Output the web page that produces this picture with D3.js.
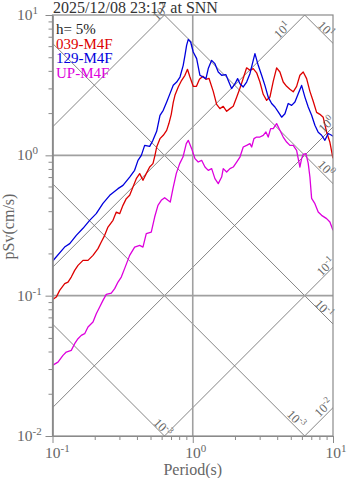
<!DOCTYPE html>
<html><head><meta charset="utf-8">
<script src="https://cdn.jsdelivr.net/npm/d3@7"></script>
<style>
body{margin:0;background:#fff;}
svg{display:block;font-family:"Liberation Serif","Times New Roman",serif;}
</style></head>
<body><svg id="c" width="347" height="478"></svg>
<script>
// ---------- DATA ----------
const title = "2025/12/08 23:17 at SNN";
const legendTitle = "h= 5%";
const seriesNames = ["039-M4F", "129-M4F", "UP-M4F"];

const periods039 = [0.1,0.1064,0.1125,0.1222,0.129,0.1361,0.1439,0.152,0.165,0.1791,0.1944,0.211,0.2227,0.2355,0.2486,0.27,0.285,0.3013,0.318,0.3357,0.355,0.3748,0.3957,0.4183,0.4416,0.4662,0.493,0.5204,0.5378,0.553,0.5838,0.6163,0.6516,0.6766,0.7026,0.7261,0.7466,0.7882,0.8334,0.8797,0.9168,0.9551,1.008,1.063,1.116,1.182,1.242,1.305,1.4,1.48,1.563,1.65,1.745,1.842,1.944,2.056,2.17,2.291,2.422,2.557,2.699,2.855,3.013,3.18,3.363,3.55,3.748,3.963,4.183,4.416,4.67,4.93,5.204,5.503,5.808,6.133,6.484,6.845,7.226,7.64,8.065,8.514,9.004,9.504,10];
const values039 = [0.0937,0.0977,0.1091,0.1218,0.125,0.1357,0.1515,0.1644,0.1785,0.1785,0.1937,0.2163,0.241,0.2691,0.3083,0.3441,0.3943,0.3841,0.4401,0.4912,0.5187,0.5942,0.6821,0.7407,0.6636,0.7407,0.8254,0.8727,1.0,1.146,1.315,1.389,1.507,1.691,1.96,2.387,2.677,3.068,3.424,3.718,4.102,3.614,3.103,3.103,3.481,3.656,3.481,3.538,2.858,2.309,2.152,2.235,2.059,2.152,2.235,2.591,3.003,3.538,4.204,4.036,4.15,3.873,3.331,2.722,2.466,2.603,3.37,4.204,3.925,3.331,3.103,2.954,2.835,3.103,3.718,3.925,3.522,2.858,2.426,2.025,1.96,1.866,1.466,1.238,0.952];

const periods129 = [0.1,0.122,0.1327,0.1478,0.165,0.184,0.205,0.229,0.256,0.293,0.318,0.355,0.385,0.407,0.43,0.454,0.493,0.52,0.553,0.584,0.616,0.652,0.688,0.726,0.768,0.811,0.855,0.88,0.904,0.929,0.966,1.008,1.066,1.125,1.188,1.242,1.29,1.364,1.439,1.52,1.607,1.725,1.791,1.893,2.0,2.089,2.17,2.291,2.422,2.557,2.699,2.776,2.93,3.098,3.27,3.452,3.651,3.854,4.069,4.302,4.541,4.795,5.07,5.352,5.649,5.973,6.306,6.657,7.04,7.43,7.844,8.295,8.757,9.245,9.772,10];
const values129 = [0.176,0.222,0.235,0.269,0.302,0.344,0.384,0.455,0.519,0.579,0.611,0.7,0.782,0.921,1.0,1.178,1.159,1.279,1.483,1.928,2.093,2.399,2.753,3.155,3.33,3.614,4.38,5.163,6.081,6.711,6.42,5.45,4.89,3.72,3.61,3.52,4.15,4.75,4.5,3.92,3.72,3.76,3.42,2.99,3.24,3.52,3.24,3.07,3.33,3.82,4.75,5.31,4.38,3.72,3.15,2.6,2.34,2.21,2.04,1.87,1.98,2.34,2.27,2.4,2.75,3.15,2.6,2.21,1.93,1.64,1.46,1.39,1.28,1.43,1.39,1.37];

const periodsUP = [0.1,0.1094,0.1188,0.1254,0.1361,0.1439,0.152,0.1604,0.1696,0.1791,0.1944,0.2052,0.217,0.2291,0.2417,0.2625,0.2776,0.2931,0.3094,0.3271,0.355,0.3853,0.4183,0.4416,0.4662,0.5061,0.5351,0.5649,0.5964,0.6304,0.6656,0.6912,0.7225,0.7628,0.8067,0.8517,0.899,0.929,0.9822,1.037,1.094,1.157,1.222,1.29,1.364,1.439,1.52,1.607,1.65,1.745,1.842,1.944,2.056,2.17,2.291,2.422,2.557,2.63,2.731,2.855,3.013,3.18,3.325,3.452,3.592,3.748,3.963,4.183,4.416,4.67,4.93,5.204,5.503,5.649,5.808,5.973,6.133,6.409,6.657,6.845,7.04,7.43,7.844,8.295,9.004,9.504,10];
const valuesUP = [0.03185,0.03363,0.03754,0.03963,0.04074,0.04548,0.04937,0.05212,0.05359,0.05973,0.06483,0.0744,0.08295,0.09259,0.1022,0.1043,0.1122,0.125,0.1357,0.1565,0.1937,0.222,0.2283,0.222,0.2767,0.284,0.3633,0.4401,0.4778,0.4995,0.4778,0.4647,0.579,0.7407,0.8727,0.9725,1.212,1.279,1.116,0.9473,0.896,0.9213,0.8254,0.7818,0.8038,0.6821,0.6284,0.7003,0.8038,0.7603,0.8038,0.8254,0.896,0.9725,1.146,1.178,1.212,1.146,1.315,1.35,1.35,1.389,1.466,1.35,1.55,1.55,1.683,1.507,1.35,1.244,1.178,1.178,1.086,0.9473,0.8254,0.9473,1.016,1.028,0.877,0.7003,0.4938,0.4525,0.3943,0.3736,0.3538,0.3346,0.292];

const accelLines = [0.01, 0.1, 1, 10, 100];    // pSa (cm/s^2), slope +1
const dispLines  = [0.001, 0.01, 0.1, 1, 10];  // Sd (cm), slope -1
const accelLabelExp = [-2, -1, 0, 1, 2];
const dispLabelExp  = [-3, -3, -1, 0, 1];
const xTickExp = [-1, 0, 1];
const yTickExp = [-2, -1, 0, 1];

// ---------- LAYOUT ----------
const L = 52.5, R = 333, T0 = 15, B = 436;
const colors = ["#dd0000", "#0000dd", "#dd00dd"];
const grey = "#8a8a8a";

const svg = d3.select("#c");
const x = d3.scaleLog().domain([0.1, 10]).range([L, R]);
const y = d3.scaleLog().domain([0.01, 10]).range([B, T0]);

svg.append("defs").append("clipPath").attr("id","clip")
  .append("rect").attr("x", L).attr("y", T0).attr("width", R - L).attr("height", B - T0);

const plot = svg.append("g").attr("clip-path", "url(#clip)");
const twoPi = 2 * Math.PI;

// diagonal lines
const tr = [0.01, 1000];
accelLines.forEach(a => {
  plot.append("line")
    .attr("x1", x(tr[0])).attr("y1", y(a * tr[0] / twoPi))
    .attr("x2", x(tr[1])).attr("y2", y(a * tr[1] / twoPi))
    .attr("stroke", "#777").attr("stroke-width", 0.9);
});
dispLines.forEach(d => {
  plot.append("line")
    .attr("x1", x(tr[0])).attr("y1", y(twoPi * d / tr[0]))
    .attr("x2", x(tr[1])).attr("y2", y(twoPi * d / tr[1]))
    .attr("stroke", "#777").attr("stroke-width", 0.9);
});

// grid lines
[1].forEach(t => plot.append("line").attr("x1", x(t)).attr("x2", x(t)).attr("y1", T0).attr("y2", B)
  .attr("stroke", "#a0a0a0").attr("stroke-width", 1.6));
[1, 0.1].forEach(v => plot.append("line").attr("x1", L).attr("x2", R).attr("y1", y(v)).attr("y2", y(v))
  .attr("stroke", "#a0a0a0").attr("stroke-width", 1.6));

// diagonal labels
function addRotLabel(px, py, angle, exp) {
  const t = svg.append("text")
    .attr("transform", `translate(${px},${py}) rotate(${angle})`)
    .attr("text-anchor", "middle").attr("dominant-baseline", "central")
    .attr("fill", "#666").attr("font-size", 12.5);
  t.append("tspan").text("10");
  t.append("tspan").attr("dy", -4).attr("font-size", 9).text(exp);
}
// accel labels: [T position, offset above line]
const accelLabelPos = [[8.6, 9], [8.9, 7.5], [9.0, 9], [4.35, 7], [0.59, 6.5]];
accelLines.forEach((a, i) => {
  const [tp, off] = accelLabelPos[i];
  addRotLabel(x(tp) , y(a * tp / twoPi) - off, -45, accelLabelExp[i]);
});
const dispLabelPos = [[0.61, 6.5], [5.45, 8], [8.6, 6], [8.9, 8], [8.9, 7]];
dispLines.forEach((d, i) => {
  const [tp, off] = dispLabelPos[i];
  addRotLabel(x(tp), y(twoPi * d / tp) - off, 45, dispLabelExp[i]);
});

// curves
const line = d3.line().x(d => x(d[0])).y(d => y(d[1]));
const sets = [[periods039, values039], [periods129, values129], [periodsUP, valuesUP]];
[2, 0, 1].forEach(i => {
  const [p, v] = sets[i];
  plot.append("path").datum(p.map((t, k) => [t, v[k]]))
    .attr("d", line).attr("fill", "none").attr("stroke", colors[i])
    .attr("stroke-width", 1.3).attr("stroke-linejoin", "round");
});

// frame
svg.append("rect").attr("x", L).attr("y", T0).attr("width", R - L).attr("height", B - T0)
  .attr("fill", "none").attr("stroke", grey).attr("stroke-width", 1.2);

// ticks
function minorVals(lo, hi) {
  const out = [];
  for (let e = lo; e < hi; e++) for (let m = 2; m <= 9; m++) out.push(m * Math.pow(10, e));
  return out;
}
const yMinor = d3.axisLeft(y).tickValues(minorVals(-2, 1)).tickSize(4).tickFormat("").tickSizeOuter(0);
const yMajor = d3.axisLeft(y).tickValues(yTickExp.map(e => Math.pow(10, e))).tickSize(7).tickFormat("").tickSizeOuter(0);
const xMinor = d3.axisBottom(x).tickValues(minorVals(-1, 1)).tickSize(4).tickFormat("").tickSizeOuter(0);
const xMajor = d3.axisBottom(x).tickValues(xTickExp.map(e => Math.pow(10, e))).tickSize(7).tickFormat("").tickSizeOuter(0);
[[yMinor, `translate(${L},0)`], [yMajor, `translate(${L},0)`], [xMinor, `translate(0,${B})`], [xMajor, `translate(0,${B})`]]
  .forEach(([ax, tf]) => {
    const g = svg.append("g").attr("transform", tf).call(ax);
    g.selectAll("path").attr("stroke", grey).attr("stroke-width", 1.2);
    g.selectAll("line").attr("stroke", grey).attr("stroke-width", 1);
  });

// tick labels
yTickExp.forEach(e => {
  const t = svg.append("text").attr("x", 17).attr("y", y(Math.pow(10, e)) + 5)
    .attr("fill", "#666").attr("font-size", 15.5);
  t.append("tspan").text("10");
  t.append("tspan").attr("dy", -6).attr("font-size", 11).text(e);
});
xTickExp.forEach(e => {
  const t = svg.append("text").attr("x", x(Math.pow(10, e)) - 7.5).attr("y", 458)
    .attr("fill", "#666").attr("font-size", 15.5);
  t.append("tspan").text("10");
  t.append("tspan").attr("dy", -6).attr("font-size", 11).text(e);
});

// axis titles
svg.append("text").attr("x", (L + R) / 2).attr("y", 475).attr("text-anchor", "middle")
  .attr("fill", "#666").attr("font-size", 16).text("Period(s)");
svg.append("text").attr("transform", `translate(14,${(T0 + B) / 2 + 1}) rotate(-90)`)
  .attr("text-anchor", "middle").attr("fill", "#666").attr("font-size", 16).text("pSv(cm/s)");

// title
svg.append("text").attr("x", 53).attr("y", 13).attr("fill", "#333").attr("font-size", 16).text(title);

// legend
const lg = svg.append("g");
lg.append("text").attr("x", 56).attr("y", 34).attr("fill", "#222").attr("font-size", 15).text(legendTitle);
seriesNames.forEach((n, i) => {
  lg.append("text").attr("x", 56).attr("y", 48.5 + i * 14.5).attr("fill", colors[i]).attr("font-size", 15).text(n);
});
</script></body></html>
